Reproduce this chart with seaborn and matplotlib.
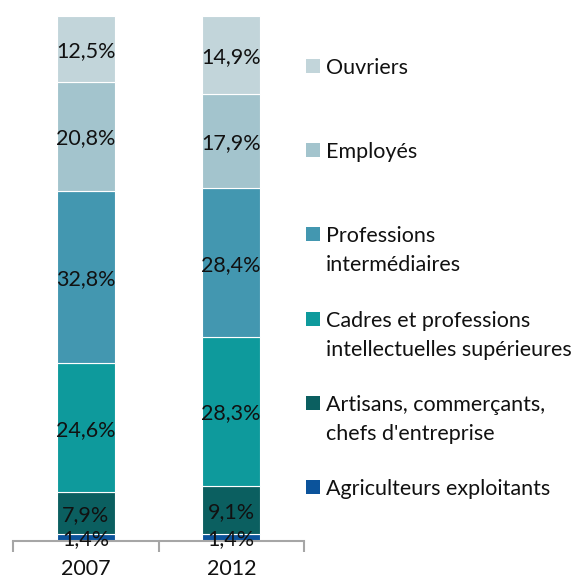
"""
Répartition par catégorie socioprofessionnelle, 2007 vs 2012
Stacked 100% bars with manual legend on the right.
"""

import numpy as np
import pandas as pd
import matplotlib.pyplot as plt
from matplotlib.patches import Rectangle
import seaborn as sns

# ── Data ──────────────────────────────────────────────────────────────────────
years = ["2007", "2012"]
categories = [
    "Agriculteurs exploitants",
    "Artisans, commerçants,\nchefs d'entreprise",
    "Cadres et professions\nintellectuelles supérieures",
    "Professions\nintermédiaires",
    "Employés",
    "Ouvriers",
]
agriculteurs = [1.4, 1.4]
artisans     = [7.9, 9.1]
cadres       = [24.6, 28.3]
prof_inter   = [32.8, 28.4]
employes     = [20.8, 17.9]
ouvriers     = [12.5, 14.9]
colors = ["#0B539B", "#0B5F60", "#0E9A9C", "#4397B0", "#A3C4CD", "#C2D5DA"]

series = [agriculteurs, artisans, cadres, prof_inter, employes, ouvriers]
df = pd.DataFrame(
    [(cat, yr, v) for cat, vals in zip(categories, series) for yr, v in zip(years, vals)],
    columns=["cat", "year", "share"],
)

# ── Style ─────────────────────────────────────────────────────────────────────
sns.set_theme(style="white")
plt.rcParams["font.family"] = ["Lato", "DejaVu Sans"]
FS = 15.5
AXIS_GREY = "#A6A6A6"

W, H = 583, 580
fig = plt.figure(figsize=(W / 100, H / 100), dpi=100)
ax = fig.add_axes([13 / W, 1 - 541 / H, 291 / W, 525 / H])

# ── Stacked bars ──────────────────────────────────────────────────────────────
bottom = np.zeros(len(years))
for cat, col in zip(categories, colors):
    sub = df[df["cat"] == cat]
    vals = sub.set_index("year").loc[years, "share"].to_numpy()
    sns.barplot(data=sub, x="year", y="share", order=years, color=col,
                saturation=1, width=0.4, errorbar=None, bottom=bottom,
                edgecolor="white", linewidth=0.8, ax=ax)
    for i, v in enumerate(vals):
        ax.text(i, bottom[i] + v / 2, f"{v:.1f}%".replace(".", ","),
                ha="center", va="center_baseline", fontsize=FS, color="#111111")
    bottom = bottom + vals

ax.set_xlim(-0.5, 1.5)
ax.set_ylim(0, 100)
ax.set_xlabel("")
ax.set_ylabel("")
ax.set_yticks([])
for side in ["top", "right", "left"]:
    ax.spines[side].set_visible(False)
ax.spines["bottom"].set_color(AXIS_GREY)
ax.spines["bottom"].set_linewidth(1.5)
ax.set_xticks([-0.5, 0.5, 1.5], minor=True)
ax.tick_params(axis="x", which="minor", bottom=True, length=8, width=1.5,
               color=AXIS_GREY, direction="out")
ax.tick_params(axis="x", which="major", bottom=False, length=0, pad=13,
               labelsize=FS, labelcolor="#111111")

# ── Legend (top = Ouvriers) ───────────────────────────────────────────────────
def fx(px):
    return px / W

def fy(py):
    return 1 - py / H

for k, (cat, col) in enumerate(zip(categories[::-1], colors[::-1])):
    yc = 66 + k * 84.2
    fig.add_artist(Rectangle((fx(306), fy(yc + 7)), 14 / W, 14 / H,
                             transform=fig.transFigure, facecolor=col, edgecolor="none"))
    for j, line in enumerate(cat.split("\n")):
        fig.text(fx(326), fy(yc + j * 29), line, ha="left", va="center_baseline",
                 fontsize=FS, color="#111111")

fig.savefig("out.png", dpi=100)
